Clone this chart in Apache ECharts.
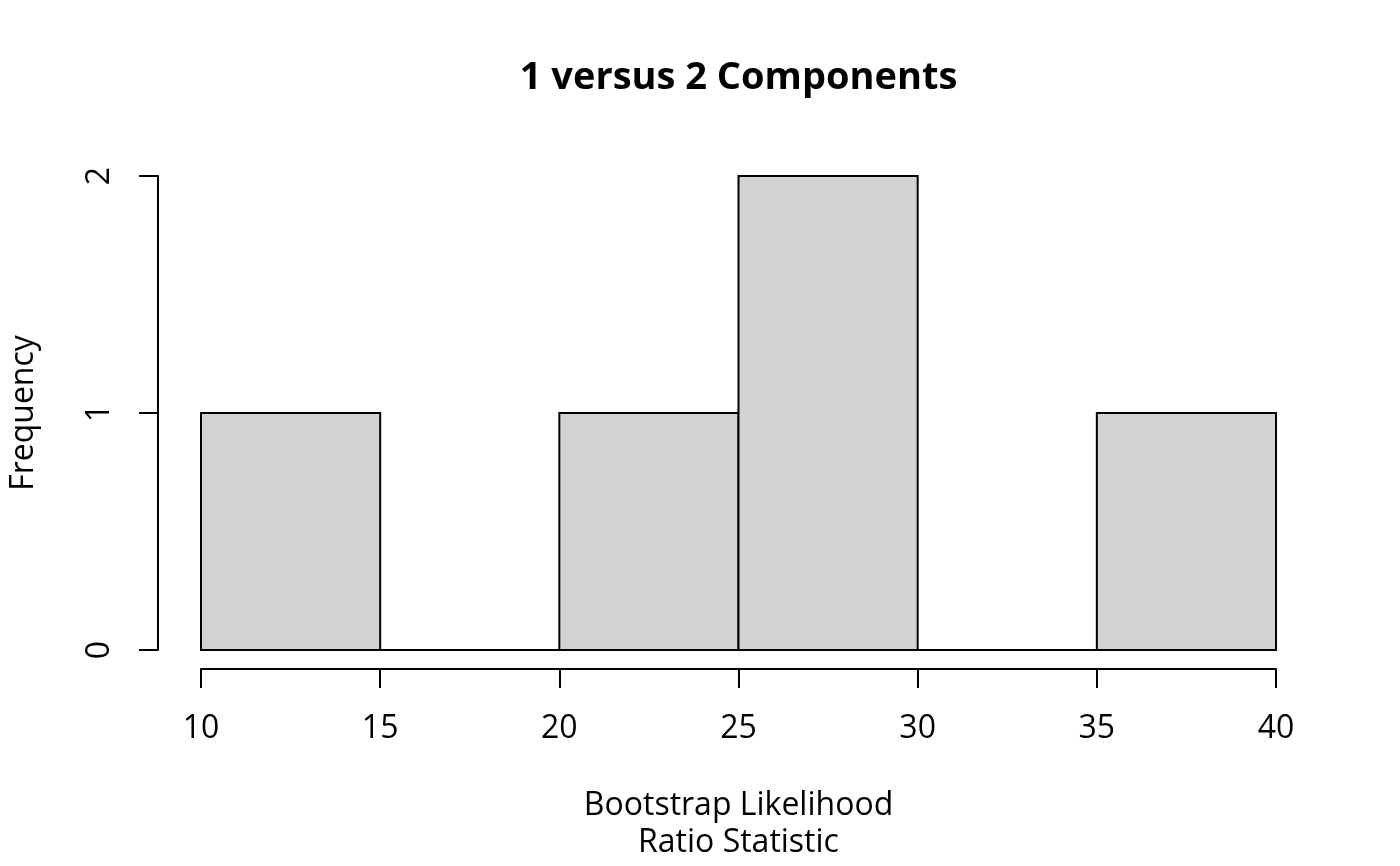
<!DOCTYPE html>
<html>
<head>
<meta charset="utf-8">
<script src="https://cdn.jsdelivr.net/npm/echarts@6/dist/echarts.min.js"></script>
<style>
html,body{margin:0;padding:0;background:#fff;}
#main{width:1400px;height:866px;}
</style>
</head>
<body>
<div id="main"></div>
<script>
var binStarts = [10, 15, 20, 25, 30, 35];
var binEnds = [15, 20, 25, 30, 35, 40];
var counts = [1, 0, 1, 2, 0, 1];
var xTicks = [10, 15, 20, 25, 30, 35, 40];
var yTicks = [0, 1, 2];
var titleText = '1 versus 2 Components';
var xName = 'Bootstrap Likelihood\nRatio Statistic';
var yName = 'Frequency';

var FONT = '"Open Sans", "Noto Sans", sans-serif';
var data = binStarts.map(function (s, i) { return [s, binEnds[i], counts[i]]; });

var chart = echarts.init(document.getElementById('main'), null, {renderer: 'canvas'});
chart.setOption({
  animation: false,
  backgroundColor: '#ffffff',
  title: {
    text: titleText,
    left: 733.5,
    textAlign: 'center',
    top: 54,
    textStyle: {fontFamily: FONT, fontSize: 38, fontWeight: 'bold', color: '#000'}
  },
  grid: {left: 201, right: 124, top: 176, bottom: 215, containLabel: false},
  xAxis: {
    type: 'value',
    min: xTicks[0],
    max: xTicks[xTicks.length - 1],
    interval: 5,
    offset: 19,
    splitLine: {show: false},
    axisLine: {show: true, onZero: false, lineStyle: {color: '#000', width: 2}},
    axisTick: {show: true, inside: false, length: 19, lineStyle: {color: '#000', width: 2}},
    axisLabel: {fontFamily: FONT, fontSize: 32, color: '#000', margin: 44, showMinLabel: true, showMaxLabel: true},
    name: xName,
    nameLocation: 'middle',
    nameGap: 118,
    nameTextStyle: {fontFamily: FONT, fontSize: 32, color: '#000', lineHeight: 37}
  },
  yAxis: {
    type: 'value',
    min: yTicks[0],
    max: yTicks[yTicks.length - 1],
    interval: 1,
    offset: 43,
    splitLine: {show: false},
    axisLine: {show: true, onZero: false, lineStyle: {color: '#000', width: 2}},
    axisTick: {show: true, inside: false, length: 19, lineStyle: {color: '#000', width: 2}},
    axisLabel: {fontFamily: FONT, fontSize: 32, color: '#000', margin: 42, rotate: 90, showMinLabel: true, showMaxLabel: true},
    name: yName,
    nameLocation: 'middle',
    nameGap: 118,
    nameRotate: 90,
    nameTextStyle: {fontFamily: FONT, fontSize: 32, color: '#000'}
  },
  series: [{
    type: 'custom',
    clip: false,
    data: data,
    encode: {x: [0, 1], y: 2},
    renderItem: function (params, api) {
      var p1 = api.coord([api.value(0), api.value(2)]);
      var p2 = api.coord([api.value(1), 0]);
      return {
        type: 'rect',
        shape: {x: p1[0], y: p1[1], width: p2[0] - p1[0], height: p2[1] - p1[1]},
        style: {fill: '#d3d3d3', stroke: '#000', lineWidth: 2}
      };
    }
  }]
});
</script>
</body>
</html>
